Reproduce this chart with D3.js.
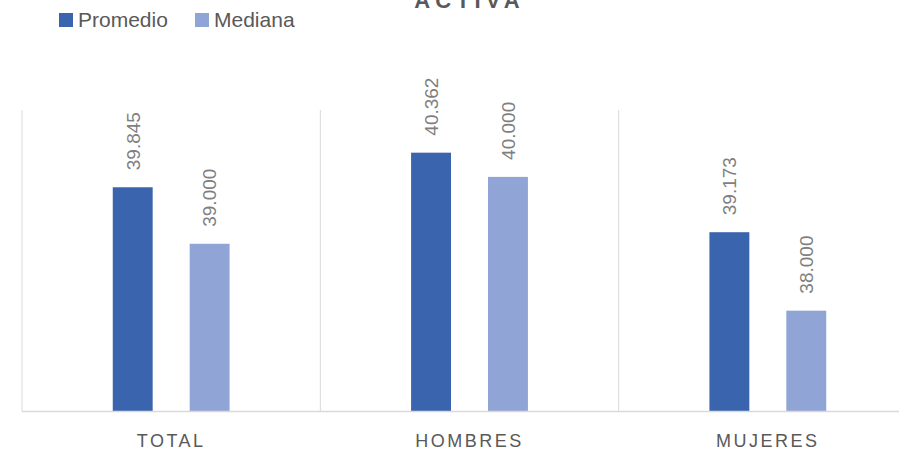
<!DOCTYPE html>
<html>
<head>
<meta charset="utf-8">
<script src="https://cdn.jsdelivr.net/npm/d3@7"></script>
<style>
  body { margin: 0; background: #fff; }
  svg { display: block; font-family: "Liberation Sans", Arial, sans-serif; }
</style>
</head>
<body>
<div id="chart"></div>
<script>
// data
var categories = ['TOTAL', 'HOMBRES', 'MUJERES'];
var seriesNames = ['Promedio', 'Mediana'];
var promedio = [39.845, 40.362, 39.173];
var mediana = [39.000, 40.000, 38.000];
var title = 'ACTIVA';

var width = 899;
var height = 450;
var colors = ['#3a64ad', '#90a5d5'];

// plot area (right edge goes past the window, like the original)
var plotLeft = 22, plotRight = 917, plotTop = 110, plotBottom = 411;

var svg = d3.select('#chart')
  .append('svg')
  .attr('width', width)
  .attr('height', height);

var x0 = d3.scaleBand()
  .domain(categories)
  .range([plotLeft, plotRight]);

var x1 = d3.scaleBand()
  .domain(seriesNames)
  .range([0, x0.bandwidth()])
  .paddingInner(0.481)
  .paddingOuter(1.18);

var y = d3.scaleLinear()
  .domain([36.5, 41])
  .range([plotBottom, plotTop]);

var fmt = d3.format('.3f');

// vertical category separators
svg.append('g')
  .selectAll('line')
  .data(categories)
  .enter().append('line')
  .attr('x1', function (d) { return x0(d); })
  .attr('x2', function (d) { return x0(d); })
  .attr('y1', plotTop)
  .attr('y2', plotBottom)
  .attr('stroke', '#d9d9d9')
  .attr('stroke-width', 1);

// bars
var rows = categories.map(function (c, i) {
  return { cat: c, values: [promedio[i], mediana[i]] };
});

var groups = svg.selectAll('.group')
  .data(rows)
  .enter().append('g')
  .attr('class', 'group')
  .attr('transform', function (d) { return 'translate(' + x0(d.cat) + ',0)'; });

groups.selectAll('rect')
  .data(function (d) {
    return d.values.map(function (v, j) { return { name: seriesNames[j], value: v, j: j }; });
  })
  .enter().append('rect')
  .attr('x', function (d) { return x1(d.name); })
  .attr('width', x1.bandwidth())
  .attr('y', function (d) { return y(d.value); })
  .attr('height', function (d) { return plotBottom - y(d.value); })
  .attr('fill', function (d) { return colors[d.j]; });

// rotated value labels
groups.selectAll('text')
  .data(function (d) {
    return d.values.map(function (v, j) { return { name: seriesNames[j], value: v }; });
  })
  .enter().append('text')
  .attr('transform', function (d) {
    return 'translate(' + (x1(d.name) + x1.bandwidth() / 2) + ',' + (y(d.value) - 17) + ') rotate(-90)';
  })
  .attr('dy', '0.36em')
  .attr('fill', '#7f7f7f')
  .style('font-size', '19px')
  .text(function (d) { return fmt(d.value); });

// baseline
svg.append('line')
  .attr('x1', plotLeft)
  .attr('x2', plotRight)
  .attr('y1', plotBottom + 0.5)
  .attr('y2', plotBottom + 0.5)
  .attr('stroke', '#d9d9d9')
  .attr('stroke-width', 1.5);

// category labels
svg.append('g')
  .selectAll('text')
  .data(categories)
  .enter().append('text')
  .attr('x', function (d) { return x0(d) + x0.bandwidth() / 2; })
  .attr('y', 447)
  .attr('text-anchor', 'middle')
  .attr('fill', '#595959')
  .style('font-size', '18px')
  .style('letter-spacing', '2.5px')
  .text(function (d) { return d; });

// title (mostly cut off at the top)
svg.append('text')
  .attr('x', (plotLeft + plotRight) / 2)
  .attr('y', 8)
  .attr('text-anchor', 'middle')
  .attr('fill', '#595959')
  .style('font-size', '22px')
  .style('font-weight', 'bold')
  .style('letter-spacing', '5px')
  .text(title);

// legend
var legend = svg.append('g');
var legendX = [59, 195];
seriesNames.forEach(function (name, i) {
  legend.append('rect')
    .attr('x', legendX[i])
    .attr('y', 13)
    .attr('width', 14)
    .attr('height', 14)
    .attr('fill', colors[i]);
  legend.append('text')
    .attr('x', legendX[i] + 19)
    .attr('y', 27)
    .attr('fill', '#595959')
    .style('font-size', '21px')
    .text(name);
});
</script>
</body>
</html>
